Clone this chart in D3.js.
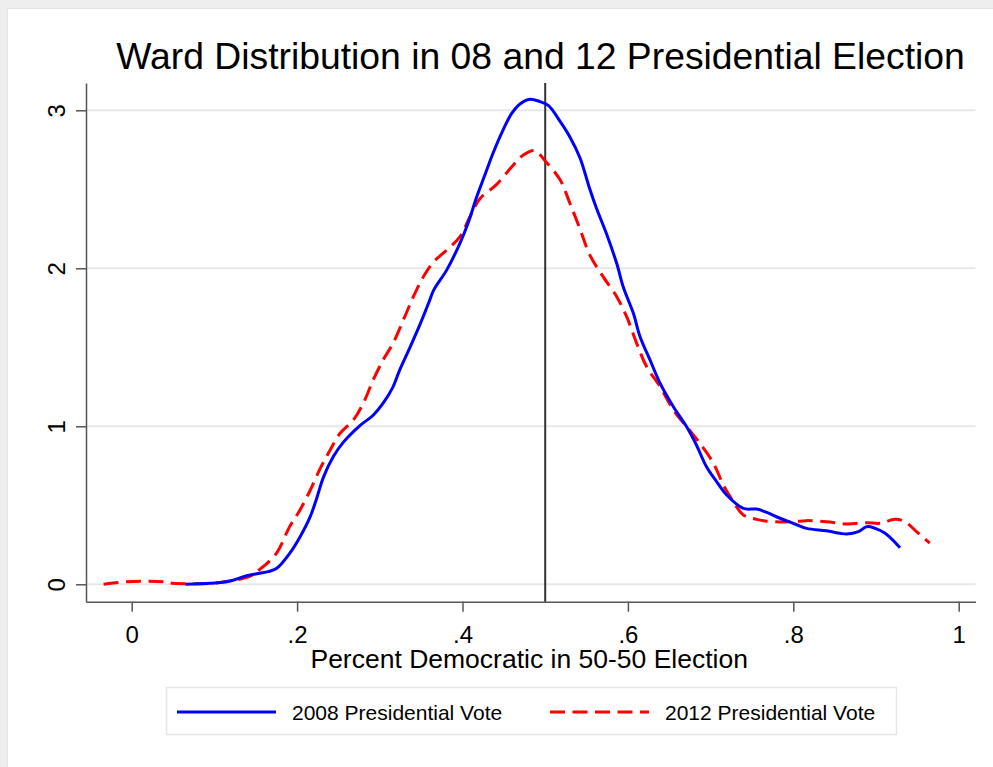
<!DOCTYPE html>
<html>
<head>
<meta charset="utf-8">
<script src="https://cdn.jsdelivr.net/npm/d3@7"></script>
<style>
  body { margin: 0; background: #fff; }
  text { font-family: "Liberation Sans", Arial, Helvetica, sans-serif; fill: #000; }
</style>
</head>
<body>
<div id="chart"></div>
<script>
// kernel density of ward vote share
var x08 = [0.065, 0.095, 0.119, 0.139, 0.155, 0.165, 0.175, 0.191, 0.2035, 0.216, 0.224, 0.232, 0.244, 0.256, 0.276, 0.292, 0.304, 0.316, 0.324, 0.3365, 0.349, 0.359, 0.365, 0.381, 0.397, 0.407, 0.417, 0.427, 0.437, 0.449, 0.4595, 0.4695, 0.4816, 0.4937, 0.504, 0.518, 0.530, 0.542, 0.554, 0.562, 0.574, 0.5865, 0.5945, 0.6066, 0.6147, 0.6267, 0.639, 0.655, 0.671, 0.683, 0.695, 0.7074, 0.7195, 0.7396, 0.7557, 0.768, 0.784, 0.800, 0.816, 0.840, 0.8565, 0.8646, 0.8787, 0.889, 0.899, 0.911, 0.929];
var y08 = [0.0, 0.006, 0.021, 0.055, 0.07, 0.08, 0.10, 0.196, 0.30, 0.43, 0.55, 0.68, 0.81, 0.90, 1.005, 1.07, 1.146, 1.25, 1.356, 1.50, 1.65, 1.78, 1.86, 1.99, 2.16, 2.29, 2.45, 2.59, 2.73, 2.875, 2.98, 3.04, 3.07, 3.055, 3.03, 2.93, 2.83, 2.70, 2.50, 2.38, 2.22, 2.03, 1.88, 1.715, 1.567, 1.42, 1.272, 1.124, 0.997, 0.88, 0.744, 0.649, 0.565, 0.48, 0.476, 0.455, 0.418, 0.386, 0.354, 0.339, 0.323, 0.318, 0.333, 0.365, 0.354, 0.323, 0.232];

var x12 = [-0.034, -0.006, 0.038, 0.050, 0.07, 0.095, 0.119, 0.143, 0.155, 0.175, 0.191, 0.2035, 0.216, 0.228, 0.240, 0.252, 0.268, 0.280, 0.292, 0.304, 0.316, 0.3285, 0.3406, 0.3527, 0.365, 0.381, 0.397, 0.409, 0.421, 0.441, 0.4615, 0.4736, 0.4877, 0.4998, 0.518, 0.530, 0.542, 0.554, 0.570, 0.5865, 0.5985, 0.6106, 0.6227, 0.639, 0.655, 0.671, 0.687, 0.7034, 0.7155, 0.7275, 0.7396, 0.7557, 0.776, 0.800, 0.816, 0.840, 0.8646, 0.889, 0.905, 0.923, 0.935, 0.949, 0.965];
var y12 = [0.0, 0.016, 0.016, 0.006, 0.004, 0.006, 0.021, 0.052, 0.095, 0.196, 0.365, 0.47, 0.597, 0.734, 0.85, 0.956, 1.04, 1.146, 1.293, 1.42, 1.525, 1.673, 1.82, 1.947, 2.04, 2.116, 2.20, 2.327, 2.44, 2.53, 2.654, 2.717, 2.744, 2.68, 2.56, 2.41, 2.25, 2.084, 1.947, 1.82, 1.694, 1.525, 1.377, 1.25, 1.103, 0.997, 0.892, 0.766, 0.628, 0.523, 0.439, 0.411, 0.396, 0.396, 0.403, 0.396, 0.382, 0.39, 0.386, 0.411, 0.396, 0.333, 0.26];

var xTicks = [0, .2, .4, .6, .8, 1];
var yTicks = [0, 1, 2, 3];
var cutoff = 0.5;
var seriesNames = ["2008 Presidential Vote", "2012 Presidential Vote"];

var W = 993, H = 767;
var plot = {left: 86, right: 975.5, top: 83, bottom: 601.7};

var svg = d3.select("#chart").append("svg")
  .attr("width", W)
  .attr("height", H);

// outer graph region
svg.append("rect").attr("width", W).attr("height", H).attr("fill", "#eeeeee");
svg.append("rect").attr("x", 7.5).attr("y", 8.5).attr("width", W).attr("height", H)
  .attr("fill", "#fff").attr("stroke", "#e4e4e4");

var x = d3.scaleLinear()
  .domain([-0.05526, 1.0203])
  .range([plot.left, plot.right]);

var y = d3.scaleLinear()
  .domain([-0.1101, 3.1728])
  .range([plot.bottom, plot.top]);

// gridlines
svg.selectAll(".grid")
  .data(yTicks)
  .enter().append("line")
  .attr("class", "grid")
  .attr("x1", plot.left).attr("x2", plot.right)
  .attr("y1", function (d) { return y(d); })
  .attr("y2", function (d) { return y(d); })
  .attr("stroke", "#e8e8e8")
  .attr("stroke-width", 2);

// x axis
var fmt = function (d) { return d === 0 ? "0" : d === 1 ? "1" : String(d).replace(/^0/, ""); };

var gx = svg.append("g")
  .attr("transform", "translate(0," + plot.bottom + ")")
  .call(d3.axisBottom(x).tickValues(xTicks).tickFormat(fmt).tickSize(10).tickSizeOuter(0).tickPadding(14));
gx.select(".domain").attr("stroke", "#555").attr("stroke-width", 1.5);
gx.selectAll(".tick line").attr("stroke", "#555").attr("stroke-width", 1.5);
gx.selectAll(".tick text").attr("font-size", 24).attr("font-family", null).attr("fill", "#000");

// y axis
var gy = svg.append("g")
  .attr("transform", "translate(" + plot.left + ",0)")
  .call(d3.axisLeft(y).tickValues(yTicks).tickFormat(d3.format("d")).tickSize(10).tickSizeOuter(0));
gy.select(".domain").attr("stroke", "#555").attr("stroke-width", 1.5);
gy.selectAll(".tick line").attr("stroke", "#555").attr("stroke-width", 1.5);
gy.selectAll(".tick text")
  .attr("font-size", 24).attr("font-family", null).attr("fill", "#000")
  .attr("x", null).attr("dy", null)
  .attr("text-anchor", "middle")
  .attr("transform", "translate(-21,0) rotate(-90)");

// 50-50 line
svg.append("line")
  .attr("x1", x(cutoff)).attr("x2", x(cutoff))
  .attr("y1", plot.top).attr("y2", plot.bottom)
  .attr("stroke", "#333").attr("stroke-width", 2);

var line = d3.line()
  .x(function (d) { return x(d[0]); })
  .y(function (d) { return y(d[1]); })
  .curve(d3.curveCatmullRom);

svg.append("path")
  .datum(d3.zip(x12, y12))
  .attr("d", line)
  .attr("fill", "none")
  .attr("stroke", "#ff0000")
  .attr("stroke-width", 3)
  .attr("stroke-dasharray", "15,7.5");

svg.append("path")
  .datum(d3.zip(x08, y08))
  .attr("d", line)
  .attr("fill", "none")
  .attr("stroke", "#0000ff")
  .attr("stroke-width", 3);

// titles
svg.append("text")
  .attr("x", 540.5).attr("y", 69)
  .attr("text-anchor", "middle")
  .attr("font-size", 37.3)
  .text("Ward Distribution in 08 and 12 Presidential Election");

svg.append("text")
  .attr("x", 529.2).attr("y", 667.7)
  .attr("text-anchor", "middle")
  .attr("font-size", 26.5)
  .text("Percent Democratic in 50-50 Election");

// legend
var legend = svg.append("g");
legend.append("rect")
  .attr("x", 166.5).attr("y", 687.5).attr("width", 730).attr("height", 47)
  .attr("fill", "#fff").attr("stroke", "#e6e6e6").attr("stroke-width", 1.5);

var keys = [
  {name: seriesNames[0], color: "#0000ff", dash: null, x0: 177},
  {name: seriesNames[1], color: "#ff0000", dash: "15,7.5", x0: 550}
];
keys.forEach(function (k) {
  legend.append("line")
    .attr("x1", k.x0).attr("x2", k.x0 + 99)
    .attr("y1", 712).attr("y2", 712)
    .attr("stroke", k.color).attr("stroke-width", 3)
    .attr("stroke-dasharray", k.dash);
  legend.append("text")
    .attr("x", k.x0 + 115).attr("y", 719.5)
    .attr("font-size", 21)
    .text(k.name);
});
</script>
</body>
</html>
